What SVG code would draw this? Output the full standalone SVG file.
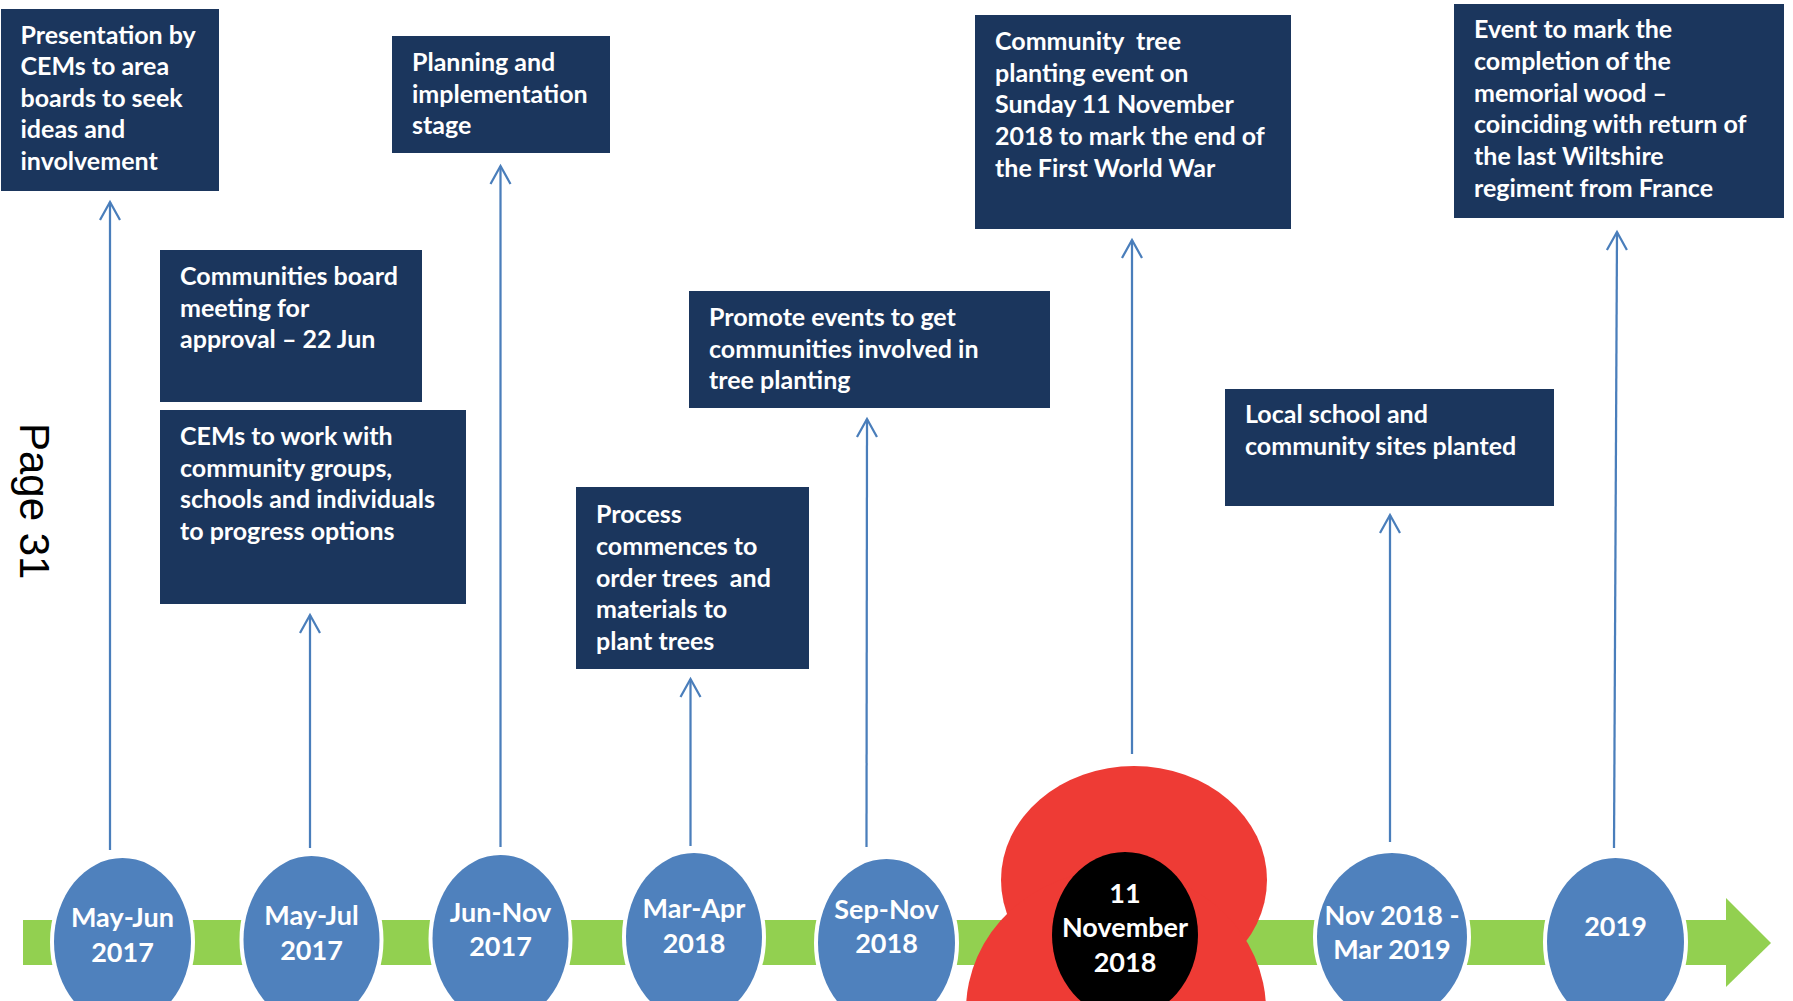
<svg xmlns="http://www.w3.org/2000/svg" width="1793" height="1001" viewBox="0 0 1793 1001">
<style>
.box{fill:#1B365D}
.bt{font-family:Lato,"Open Sans",sans-serif;font-weight:700;font-size:25px;fill:#fff}
.ct{font-family:Lato,"Open Sans",sans-serif;font-weight:700;font-size:27px;fill:#fff;text-anchor:middle}
.dot{fill:#4F81BD;stroke:#fff;stroke-width:8;paint-order:stroke}
.conn{stroke:#4A7EBB;stroke-width:2.25;fill:none}
.page{font-family:"Liberation Sans",Arial,sans-serif;font-size:42px;fill:#000}
</style>
<defs>
<marker id="ah" markerUnits="userSpaceOnUse" markerWidth="40" markerHeight="40" refX="0" refY="0" orient="auto" overflow="visible">
<path d="M -18 -10 L 0 0 L -18 10" fill="none" stroke="#4A7EBB" stroke-width="2.25"/>
</marker>
</defs>
<rect width="1793" height="1001" fill="#fff"/>
<text class="page" transform="translate(19.5,423) rotate(90)">Page 31</text>

<g id="connectors">
<line class="conn" x1="110" y1="850" x2="110" y2="202" marker-end="url(#ah)"/>
<line class="conn" x1="310" y1="848" x2="310" y2="615" marker-end="url(#ah)"/>
<line class="conn" x1="500.5" y1="847" x2="500.5" y2="166" marker-end="url(#ah)"/>
<line class="conn" x1="690.5" y1="846" x2="690.5" y2="679" marker-end="url(#ah)"/>
<line class="conn" x1="866.5" y1="847" x2="867" y2="419" marker-end="url(#ah)"/>
<line class="conn" x1="1132" y1="754" x2="1132" y2="240" marker-end="url(#ah)"/>
<line class="conn" x1="1390" y1="842" x2="1390" y2="515" marker-end="url(#ah)"/>
<line class="conn" x1="1614" y1="848" x2="1617" y2="232" marker-end="url(#ah)"/>
</g>

<g id="box-presentation">
<rect class="box" x="1" y="9" width="218" height="182"/>
<text class="bt"><tspan x="20.5" y="43.5">Presentation by</tspan><tspan x="20.5" y="75">CEMs to area</tspan><tspan x="20.5" y="106.7">boards to seek</tspan><tspan x="20.5" y="138.3">ideas and</tspan><tspan x="20.5" y="170">involvement</tspan></text>
</g>
<g id="box-planning">
<rect class="box" x="392" y="36" width="218" height="117"/>
<text class="bt"><tspan x="412" y="71">Planning and</tspan><tspan x="412" y="102.5">implementation</tspan><tspan x="412" y="134">stage</tspan></text>
</g>
<g id="box-communities-board">
<rect class="box" x="160" y="250" width="262" height="152"/>
<text class="bt"><tspan x="180" y="285">Communities board</tspan><tspan x="180" y="316.7">meeting for</tspan><tspan x="180" y="348.3">approval – 22 Jun</tspan></text>
</g>
<g id="box-cems">
<rect class="box" x="160" y="410" width="306" height="194"/>
<text class="bt"><tspan x="180" y="445">CEMs to work with</tspan><tspan x="180" y="476.7">community groups,</tspan><tspan x="180" y="508.3">schools and individuals</tspan><tspan x="180" y="540">to progress options</tspan></text>
</g>
<g id="box-promote">
<rect class="box" x="689" y="291" width="361" height="117"/>
<text class="bt"><tspan x="709" y="326">Promote events to get</tspan><tspan x="709" y="357.7">communities involved in</tspan><tspan x="709" y="389.3">tree planting</tspan></text>
</g>
<g id="box-process">
<rect class="box" x="576" y="487" width="233" height="182"/>
<text class="bt" xml:space="preserve"><tspan x="596" y="523">Process</tspan><tspan x="596" y="555">commences to</tspan><tspan x="596" y="586.7">order trees  and</tspan><tspan x="596" y="618.3">materials to</tspan><tspan x="596" y="650">plant trees</tspan></text>
</g>
<g id="box-community-tree">
<rect class="box" x="975" y="15" width="316" height="214"/>
<text class="bt" xml:space="preserve"><tspan x="995" y="50">Community  tree</tspan><tspan x="995" y="81.7">planting event on</tspan><tspan x="995" y="113.3">Sunday 11 November</tspan><tspan x="995" y="145.3">2018 to mark the end of</tspan><tspan x="995" y="176.7">the First World War</tspan></text>
</g>
<g id="box-event">
<rect class="box" x="1454" y="4" width="330" height="214"/>
<text class="bt"><tspan x="1474" y="38.3">Event to mark the</tspan><tspan x="1474" y="70">completion of the</tspan><tspan x="1474" y="101.7">memorial wood –</tspan><tspan x="1474" y="133.3">coinciding with return of</tspan><tspan x="1474" y="165.3">the last Wiltshire</tspan><tspan x="1474" y="197.3">regiment from France</tspan></text>
</g>
<g id="box-local">
<rect class="box" x="1225" y="389" width="329" height="117"/>
<text class="bt"><tspan x="1245" y="423.3">Local school and</tspan><tspan x="1245" y="455">community sites planted</tspan></text>
</g>

<g id="timeline-bar">
<rect x="23" y="920" width="1704" height="45" fill="#92D050"/>
<polygon points="1726,898 1771,943 1726,987" fill="#92D050"/>
</g>

<g id="node-may-jun-2017">
<ellipse class="dot" cx="122.5" cy="942" rx="68.5" ry="84"/>
<text class="ct"><tspan x="122.5" y="927">May-Jun</tspan><tspan x="122.5" y="962">2017</tspan></text>
</g>
<g id="node-may-jul-2017">
<ellipse class="dot" cx="311.5" cy="940" rx="68" ry="84"/>
<text class="ct"><tspan x="311.5" y="925">May-Jul</tspan><tspan x="311.5" y="960">2017</tspan></text>
</g>
<g id="node-jun-nov-2017">
<ellipse class="dot" cx="500.5" cy="939" rx="68" ry="84"/>
<text class="ct"><tspan x="500.5" y="921.7">Jun-Nov</tspan><tspan x="500.5" y="956">2017</tspan></text>
</g>
<g id="node-mar-apr-2018">
<ellipse class="dot" cx="694" cy="937" rx="68" ry="84"/>
<text class="ct"><tspan x="694" y="918.3">Mar-Apr</tspan><tspan x="694" y="953.3">2018</tspan></text>
</g>
<g id="node-sep-nov-2018">
<ellipse class="dot" cx="886.5" cy="943" rx="68.5" ry="84"/>
<text class="ct"><tspan x="886.5" y="919.3">Sep-Nov</tspan><tspan x="886.5" y="953.3">2018</tspan></text>
</g>
<g id="node-11-november-2018">
<ellipse cx="1134" cy="880" rx="133" ry="114" fill="#EE3B35"/>
<ellipse cx="1116" cy="1010" rx="150" ry="140" fill="#EE3B35"/>
<ellipse cx="1125" cy="935" rx="73" ry="83" fill="#000"/>
<text class="ct"><tspan x="1125" y="902.7">11</tspan><tspan x="1125" y="937.3">November</tspan><tspan x="1125" y="972.3">2018</tspan></text>
</g>
<g id="node-nov-2018-mar-2019">
<ellipse class="dot" cx="1392" cy="937" rx="75" ry="84"/>
<text class="ct"><tspan x="1392" y="925">Nov 2018 -</tspan><tspan x="1392" y="959.3">Mar 2019</tspan></text>
</g>
<g id="node-2019">
<ellipse class="dot" cx="1615.5" cy="942" rx="68.5" ry="84"/>
<text class="ct"><tspan x="1615.5" y="936">2019</tspan></text>
</g>
</svg>
